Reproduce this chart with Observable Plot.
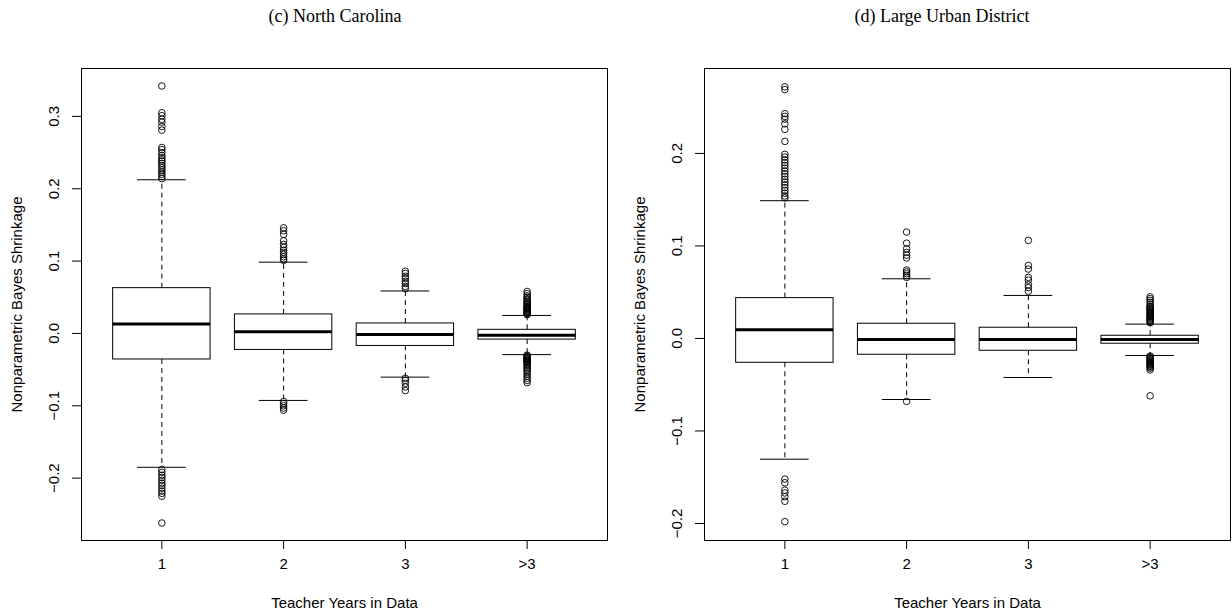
<!DOCTYPE html>
<html>
<head>
<meta charset="utf-8">
<script src="https://cdn.jsdelivr.net/npm/d3@7"></script>
<script src="https://cdn.jsdelivr.net/npm/@observablehq/plot@0.6"></script>
<style>
  html, body { margin: 0; padding: 0; background: #fff; }
  #wrap { position: relative; width: 1232px; height: 615px; overflow: hidden; background: #fff; }
  .panel { position: absolute; top: 0; width: 616px; height: 615px; }
  .title { position: absolute; top: 6px; font-family: "Liberation Serif", "DejaVu Serif", serif; font-size: 18px; color: #000; white-space: nowrap; transform: translateX(-50%); }
  .chart { position: absolute; top: 34px; left: 0; }
</style>
</head>
<body>
<div id="wrap">
  <div class="panel" id="p1" style="left:0"><div class="title" style="left:335px">(c) North Carolina</div><div class="chart" id="c1"></div></div>
  <div class="panel" id="p2" style="left:616px"><div class="title" style="left:326px">(d) Large Urban District</div><div class="chart" id="c2"></div></div>
</div>
<script>
// ---------- data ----------
const xTickLabels = ["1", "2", "3", ">3"];
const xTitle = "Teacher Years in Data";
const yTitle = "Nonparametric Bayes Shrinkage";

// (c) North Carolina
const ncYTicks = [-0.2, -0.1, 0.0, 0.1, 0.2, 0.3];
const ncLowerWhisker = [-0.185, -0.0926, -0.0604, -0.0293];
const ncQ1 = [-0.036, -0.0228, -0.0173, -0.0085];
const ncMedian = [0.0129, 0.0022, -0.0014, -0.0025];
const ncQ3 = [0.0626, 0.0263, 0.0138, 0.005];
const ncUpperWhisker = [0.2124, 0.0985, 0.0587, 0.0249];
const ncOutliers1 = [0.342, 0.305, 0.301, 0.296, 0.292, 0.286, 0.281, 0.257, 0.254, 0.250, 0.246, 0.243, 0.240, 0.238, 0.235, 0.232, 0.229, 0.226, 0.223, 0.220, 0.217, 0.214,
  -0.188, -0.192, -0.196, -0.199, -0.203, -0.207, -0.210, -0.214, -0.218, -0.221, -0.225, -0.262];
const ncOutliers2 = [0.146, 0.142, 0.137, 0.128, 0.123, 0.119, 0.115, 0.112, 0.109, 0.106, 0.103, 0.101,
  -0.094, -0.097, -0.100, -0.103, -0.106];
const ncOutliers3 = [0.086, 0.083, 0.079, 0.076, 0.072, 0.069, 0.065, 0.062,
  -0.062, -0.065, -0.069, -0.074, -0.079];
const ncOutliers4 = [0.058, 0.055, 0.052, 0.050, 0.048, 0.046, 0.044, 0.043, 0.041, 0.040, 0.038, 0.037, 0.036, 0.035, 0.034, 0.033, 0.032, 0.031, 0.030, 0.029, 0.028, 0.027, 0.026,
  -0.030, -0.031, -0.032, -0.033, -0.034, -0.035, -0.036, -0.037, -0.038, -0.039, -0.040, -0.041, -0.043, -0.045, -0.047, -0.049, -0.051, -0.053, -0.056, -0.059, -0.062, -0.065, -0.068];

// (d) Large Urban District
const ludYTicks = [-0.2, -0.1, 0.0, 0.1, 0.2];
const ludLowerWhisker = [-0.1305, -0.066, -0.0422, -0.0184];
const ludQ1 = [-0.0263, -0.0176, -0.0133, -0.0057];
const ludMedian = [0.0094, -0.0011, -0.001, -0.001];
const ludQ3 = [0.0436, 0.0159, 0.0116, 0.0029];
const ludUpperWhisker = [0.1489, 0.0645, 0.0465, 0.0155];
const ludOutliers1 = [0.272, 0.269, 0.243, 0.240, 0.237, 0.232, 0.226, 0.213, 0.199, 0.196, 0.193, 0.190, 0.187, 0.184, 0.181, 0.178, 0.175, 0.172, 0.169, 0.166, 0.163, 0.160, 0.157, 0.154, 0.152,
  -0.152, -0.156, -0.164, -0.167, -0.171, -0.176, -0.198];
const ludOutliers2 = [0.115, 0.103, 0.097, 0.093, 0.090, 0.087, 0.074, 0.072, 0.070, 0.068, 0.066, -0.068];
const ludOutliers3 = [0.106, 0.079, 0.075, 0.066, 0.063, 0.058, 0.055, 0.051];
const ludOutliers4 = [0.045, 0.043, 0.041, 0.039, 0.037, 0.035, 0.034, 0.033, 0.032, 0.031, 0.030, 0.029, 0.028, 0.027, 0.026, 0.025, 0.024, 0.023, 0.022, 0.021, 0.020, 0.019, 0.018, 0.017,
  -0.019, -0.020, -0.021, -0.022, -0.023, -0.024, -0.025, -0.026, -0.027, -0.028, -0.029, -0.030, -0.031, -0.032, -0.034, -0.062];

// ---------- drawing ----------
const FONT = '"Liberation Sans", Arial, Helvetica, sans-serif';
const FS = 15;

function boxplot({yDomain, yTicks, lo, q1, med, q3, hi, outliers, marginLeft, marginRight}) {
  const groups = q1.map((_, i) => ({x: i + 1, lo: lo[i], q1: q1[i], med: med[i], q3: q3[i], hi: hi[i]}));
  const pts = outliers.flatMap((arr, i) => arr.map(v => ({x: i + 1, v})));
  const halfBox = 0.4, halfStaple = 0.2;
  return Plot.plot({
    width: 616,
    height: 581,
    marginTop: 34,
    marginBottom: 75,
    marginLeft,
    marginRight,
    style: {fontFamily: FONT, fontSize: FS + "px", color: "#000", background: "#fff", overflow: "visible"},
    x: {domain: [0.34, 4.66]},
    y: {domain: yDomain},
    marks: [
      Plot.ruleX(groups, {x: "x", y1: "q3", y2: "hi", stroke: "#000", strokeWidth: 1, strokeDasharray: "5,4"}),
      Plot.ruleX(groups, {x: "x", y1: "q1", y2: "lo", stroke: "#000", strokeWidth: 1, strokeDasharray: "5,4"}),
      Plot.ruleY(groups, {y: "hi", x1: d => d.x - halfStaple, x2: d => d.x + halfStaple, stroke: "#000", strokeWidth: 1}),
      Plot.ruleY(groups, {y: "lo", x1: d => d.x - halfStaple, x2: d => d.x + halfStaple, stroke: "#000", strokeWidth: 1}),
      Plot.rect(groups, {x1: d => d.x - halfBox, x2: d => d.x + halfBox, y1: "q1", y2: "q3", fill: "#fff", stroke: "#000", strokeWidth: 1}),
      Plot.ruleY(groups, {y: "med", x1: d => d.x - halfBox, x2: d => d.x + halfBox, stroke: "#000", strokeWidth: 3}),
      Plot.dot(pts, {x: "x", y: "v", r: 3.3, stroke: "#000", fill: "none", strokeWidth: 0.9}),
      Plot.frame({stroke: "#000", strokeWidth: 1}),
      Plot.axisX({ticks: [1, 2, 3, 4], tickFormat: d => xTickLabels[d - 1], tickSize: 9, tickPadding: 9, fontSize: FS, label: null}),
      Plot.axisY({ticks: yTicks, tickFormat: d3.format(".1f"), tickSize: 9, tickPadding: 14, tickRotate: -90, fontSize: FS, label: null}),
      Plot.text([xTitle], {frameAnchor: "bottom", dy: 63, lineAnchor: "middle", fontSize: FS, text: d => d}),
      Plot.text([yTitle], {frameAnchor: "left", dx: -64, rotate: -90, lineAnchor: "middle", textAnchor: "middle", fontSize: FS, text: d => d})
    ]
  });
}

document.getElementById("c1").appendChild(boxplot({
  yDomain: [-0.2862, 0.3662], yTicks: ncYTicks,
  lo: ncLowerWhisker, q1: ncQ1, med: ncMedian, q3: ncQ3, hi: ncUpperWhisker,
  outliers: [ncOutliers1, ncOutliers2, ncOutliers3, ncOutliers4],
  marginLeft: 81, marginRight: 9
}));
document.getElementById("c2").appendChild(boxplot({
  yDomain: [-0.2184, 0.2918], yTicks: ludYTicks,
  lo: ludLowerWhisker, q1: ludQ1, med: ludMedian, q3: ludQ3, hi: ludUpperWhisker,
  outliers: [ludOutliers1, ludOutliers2, ludOutliers3, ludOutliers4],
  marginLeft: 88, marginRight: 2
}));
</script>
</body>
</html>
